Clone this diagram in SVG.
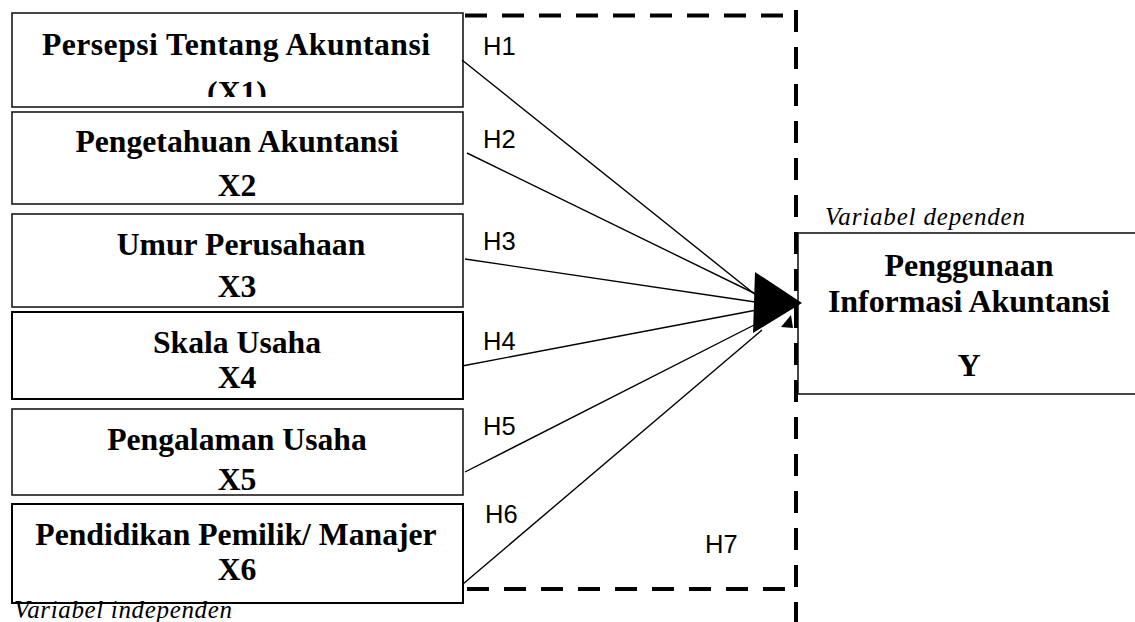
<svg xmlns="http://www.w3.org/2000/svg" width="1135" height="622" viewBox="0 0 1135 622">
<style>
.box{fill:#fff;stroke:#1a1a1a;stroke-width:1.6}
.t{font-family:"Liberation Serif","Times New Roman",serif;font-weight:bold;font-size:31.7px;text-anchor:middle;fill:#000}
.it{font-family:"Liberation Serif","Times New Roman",serif;font-style:italic;font-size:25px;fill:#000}
.h{font-family:"Liberation Sans",Arial,sans-serif;font-size:25.5px;fill:#000}
.ln{stroke:#000;stroke-width:1.4;fill:none}
.dash{stroke:#000;stroke-width:4;fill:none;stroke-dasharray:22 15}
</style>
<defs>
<clipPath id="c1"><rect x="12" y="13" width="452" height="84"/></clipPath>
</defs>
<rect width="1135" height="622" fill="#fff"/>

<g id="frame">
<path class="dash" d="M465,15.5 H797"/>
<path class="dash" d="M467,589 H797"/>
</g>

<g id="node-y">
<rect class="box" x="798" y="233" width="400" height="161"/>
<text class="it" x="825" y="225" textLength="200">Variabel dependen</text>
<text class="t" x="969" y="276" style="font-size:32px">Penggunaan</text>
<text class="t" x="969" y="312" style="font-size:32px" textLength="282">Informasi Akuntansi</text>
<text class="t" x="969" y="376" style="font-size:32px">Y</text>
</g>

<g id="frame-right">
<path class="dash" d="M796,10 V622"/>
</g>

<g id="node-x1">
<rect class="box" x="12" y="13" width="451" height="94"/>
<g clip-path="url(#c1)">
<text class="t" x="236" y="55" textLength="388">Persepsi Tentang Akuntansi</text>
<text class="t" x="237" y="103">(X1)</text>
</g>
</g>
<g id="node-x2">
<rect class="box" x="12" y="112" width="451" height="92"/>
<text class="t" x="237" y="152">Pengetahuan Akuntansi</text>
<text class="t" x="237" y="196">X2</text>
</g>
<g id="node-x3">
<rect class="box" x="12" y="214" width="451" height="93"/>
<text class="t" x="241" y="255">Umur Perusahaan</text>
<text class="t" x="237" y="297">X3</text>
</g>
<g id="node-x4">
<rect class="box" x="12" y="312" width="451" height="87" style="stroke:#000;stroke-width:2"/>
<text class="t" x="237" y="353">Skala Usaha</text>
<text class="t" x="237" y="388">X4</text>
</g>
<g id="node-x5">
<rect class="box" x="12" y="409" width="451" height="86"/>
<text class="t" x="237" y="450">Pengalaman Usaha</text>
<text class="t" x="237" y="490">X5</text>
</g>
<g id="node-x6">
<rect class="box" x="12" y="504" width="451" height="99" style="stroke:#000;stroke-width:2"/>
<text class="t" x="236" y="545">Pendidikan Pemilik/ Manajer</text>
<text class="t" x="237" y="580">X6</text>
</g>
<text class="it" x="14" y="618" textLength="218">Variabel independen</text>

<g id="connectors">
<path class="ln" d="M462,60 L762,300"/>
<path class="ln" d="M467,153 L762,297"/>
<path class="ln" d="M465,259 L762,303"/>
<path class="ln" d="M462,366 L762,309"/>
<path class="ln" d="M465,472 L762,321"/>
<path class="ln" d="M463,584 L762,330"/>
<polygon points="755,272 802,303 753,333" fill="#000"/>
<polygon points="781,327 791,315 793,328" fill="#000"/>
</g>

<g id="labels">
<text class="h" x="483" y="55">H1</text>
<text class="h" x="483" y="148">H2</text>
<text class="h" x="483" y="250">H3</text>
<text class="h" x="483" y="350">H4</text>
<text class="h" x="483" y="435">H5</text>
<text class="h" x="485" y="523">H6</text>
<text class="h" x="705" y="553">H7</text>
</g>
</svg>
